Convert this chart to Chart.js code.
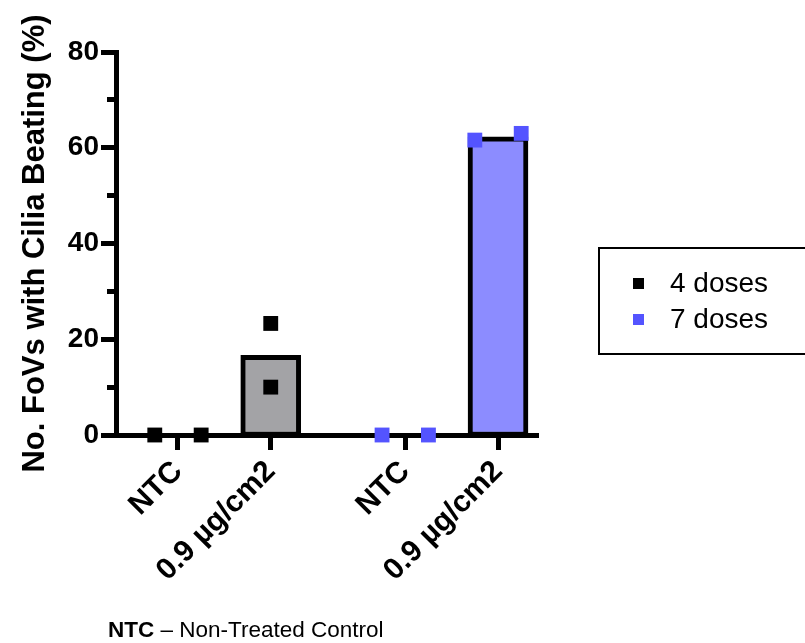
<!DOCTYPE html>
<html>
<head>
<meta charset="utf-8">
<script src="https://cdn.jsdelivr.net/npm/chart.js@4.4.1/dist/chart.umd.min.js"></script>
<style>
  html, body { margin: 0; padding: 0; background: #fff; }
  #wrap { position: relative; width: 805px; height: 643px; overflow: hidden; }
  #legend {
    position: absolute; left: 598px; top: 247px; width: 260px; height: 104px;
    border: 2px solid #000; font-family: "Liberation Sans", Arial, sans-serif; font-size: 28px;
  }
  #legend .row { position: absolute; left: 0; height: 30px; line-height: 30px; }
  #legend .box { position: absolute; left: 33px; top: 10px; width: 11px; height: 11px; }
  #legend .txt { position: absolute; left: 70px; top: 0; white-space: nowrap; }
  #note {
    position: absolute; left: 108px; top: 618px; white-space: nowrap;
    font-family: "Liberation Sans", Arial, sans-serif; font-size: 22.5px; line-height: 24px;
  }
</style>
</head>
<body>
<div id="wrap">
  <canvas id="chart" width="805" height="643"></canvas>
  <div id="legend"></div>
  <div id="note"><b>NTC</b> – Non-Treated Control</div>
</div>
<script>
'use strict';

// data
const categories = ['NTC', '0.9 µg/cm2'];
const seriesNames = ['4 doses', '7 doses'];
const fourDoses = [[0, 0], [23.3, 10.0]];
const sevenDoses = [[0, 0], [61.6, 63.0]];
const yTicks = [0, 20, 40, 60, 80];

const pointColors = ['#000000', '#5454ff'];
const barColors = ['#a3a3a6', '#8c8cff'];
const font = '"Liberation Sans", Arial, sans-serif';

// layout of the grouped x axis
const groupStride = 2.45;
const allSeries = [fourDoses, sevenDoses];
const tickPos = [];
const tickLabels = [];
allSeries.forEach((s, g) => {
  categories.forEach((c, i) => {
    tickPos.push(g * groupStride + i);
    tickLabels.push(c);
  });
});

// replicates that overlap get spread sideways, like the original
function spread(vals) {
  if (Math.abs(vals[0] - vals[1]) < 3) return [-0.25, 0.25];
  return [0, 0];
}
function mean(vals) {
  return vals.reduce((a, b) => a + b, 0) / vals.length;
}

const barData = [];
const barFill = [];
allSeries.forEach((s, g) => {
  s.forEach((vals, i) => {
    barData.push({ x: g * groupStride + i, y: mean(vals) });
    barFill.push(barColors[g]);
  });
});

const pointSets = allSeries.map((s, g) => {
  const pts = [];
  s.forEach((vals, i) => {
    const jit = spread(vals);
    vals.forEach((v, k) => pts.push({ x: g * groupStride + i + jit[k], y: v }));
  });
  return {
    type: 'scatter',
    label: seriesNames[g],
    data: pts,
    pointStyle: 'rect',
    pointRadius: 10.5,
    pointHoverRadius: 10.5,
    pointBorderWidth: 0,
    backgroundColor: pointColors[g],
    clip: false,
    order: 1
  };
});

const config = {
  type: 'scatter',
  data: {
    datasets: [
      {
        type: 'bar',
        label: 'mean',
        data: barData,
        backgroundColor: barFill,
        borderColor: '#000',
        borderWidth: { top: 5, left: 5, right: 5, bottom: 3 },
        borderSkipped: false,
        barThickness: 60,
        order: 2
      },
      ...pointSets
    ]
  },
  options: {
    responsive: false,
    animation: false,
    layout: { padding: { top: 52, right: 267, bottom: 0, left: 0 } },
    plugins: { legend: { display: false }, tooltip: { enabled: false } },
    scales: {
      x: {
        type: 'linear',
        position: 'bottom',
        min: -0.668,
        max: 3.881,
        offset: false,
        afterBuildTicks: (s) => { s.ticks = tickPos.map(v => ({ value: v })); },
        afterFit: (s) => { s.height = 208; },
        ticks: {
          autoSkip: false,
          minRotation: 45,
          maxRotation: 45,
          padding: 4,
          color: '#000',
          font: { family: font, size: 30, weight: 'bold' },
          callback: (v, i) => tickLabels[i]
        },
        grid: { offset: false, drawOnChartArea: false, tickLength: 15, tickWidth: 5, tickColor: '#000' },
        border: { color: '#000', width: 5 }
      },
      y: {
        type: 'linear',
        position: 'left',
        weight: 1,
        min: yTicks[0],
        max: yTicks[yTicks.length - 1],
        afterFit: (s) => { s.width = 116; },
        ticks: {
          stepSize: yTicks[1] - yTicks[0],
          padding: 2,
          color: '#000',
          font: { family: font, size: 28, weight: 'bold' }
        },
        grid: { drawOnChartArea: false, tickLength: 15, tickWidth: 5, tickColor: '#000' },
        border: { color: '#000', width: 5 },
        title: {
          display: true,
          text: 'No. FoVs with Cilia Beating (%)',
          color: '#000',
          font: { family: font, size: 31, weight: 'bold' },
          padding: { top: 17, bottom: 0 }
        }
      },
      yMinor: {
        type: 'linear',
        position: 'left',
        weight: 0,
        min: yTicks[0],
        max: yTicks[yTicks.length - 1],
        afterFit: (s) => { s.width = 0; },
        ticks: { display: false, stepSize: (yTicks[1] - yTicks[0]) / 2 },
        grid: { drawOnChartArea: false, tickLength: 9, tickWidth: 5, tickColor: '#000' },
        border: { display: false }
      }
    }
  }
};

const chart = new Chart(document.getElementById('chart'), config);

// legend box at the right
const legendEl = document.getElementById('legend');
seriesNames.forEach((name, g) => {
  const row = document.createElement('div');
  row.className = 'row';
  row.style.top = (19 + g * 36) + 'px';
  row.innerHTML = '<span class="box" style="background:' + pointColors[g] + '"></span>' +
    '<span class="txt">' + name + '</span>';
  legendEl.appendChild(row);
});
</script>
</body>
</html>
